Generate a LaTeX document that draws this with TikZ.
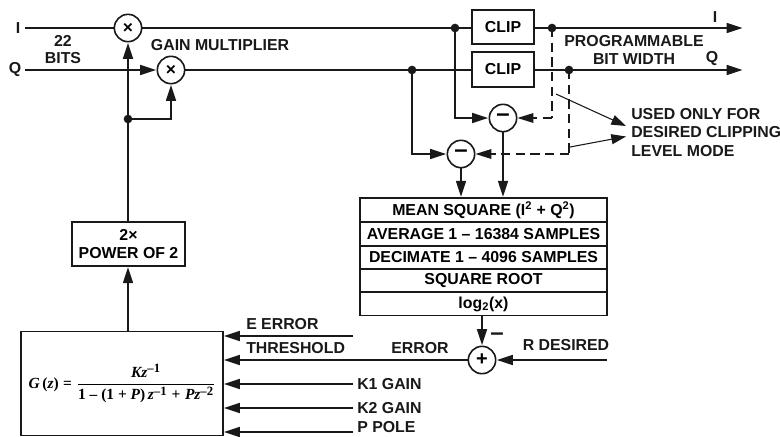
\documentclass[tikz,border=0pt]{standalone}
\usepackage{fontspec}
\usepackage{amsmath}
\setmainfont{Liberation Sans}[BoldFont={Liberation Sans Bold}]
\newfontfamily\serf{Liberation Serif}
\usetikzlibrary{arrows.meta,calc}
\newcommand{\fv}[1]{\hbox{\serf\bfseries\itshape #1}}
\newcommand{\fr}[1]{\hbox{\serf\bfseries #1}}
\newcommand{\fs}[1]{{}^{\hbox{\fontsize{9.5}{9.5}\serf\bfseries #1}}}
\newcommand{\lab}{\bfseries\fontsize{11.9}{11.9}\selectfont}
\tikzset{
  x=0.75pt,y=-0.75pt,
  wire/.style={line width=1.2pt,black!90},
  arr/.style={wire,-{Triangle[length=12pt,width=7.5pt]},shorten >=0.3pt},
  dash wire/.style={wire,dash pattern=on 7pt off 4pt},
  thin arr/.style={line width=0.8pt,black!90,-{Triangle[length=11pt,width=7.5pt]}},
  circ/.style={circle,draw=black!90,line width=1.2pt,minimum size=20.5pt,inner sep=0pt,fill=white,font=\bfseries\fontsize{13}{13}\selectfont},
  blk/.style={draw=black!90,line width=1.2pt,inner sep=0pt,fill=white,align=center,font=\lab},
  dot/.style={circle,fill=black!90,minimum size=6.5pt,inner sep=0pt},
  lab/.style={inner sep=0pt,font=\lab,align=center,text=black!90},
  labl/.style={lab,anchor=west},
}
\begin{document}
\begin{tikzpicture}
\useasboundingbox (0,0) rectangle (780,436);
% multipliers, subtractors, summer
\node[circ] (m1) at (128,28) {×};
\node[circ] (m2) at (171,70) {×};
\node[circ,font=\bfseries\fontsize{18}{18}\selectfont] (d1) at (503,118) {–};
\node[circ,font=\bfseries\fontsize{18}{18}\selectfont] (d2) at (461,154) {–};
\node[circ,font=\bfseries\fontsize{15}{15}\selectfont] (sum) at (482,360) {+};
% blocks
\node[blk,minimum width=46.5pt,minimum height=25.5pt] at (503,27) (c1) {CLIP};
\node[blk,minimum width=46.5pt,minimum height=26pt] at (503,69.5) (c2) {CLIP};
\node[blk,minimum width=84.5pt,minimum height=33pt,align=center] (pw) at (128.5,244) {2×\\[1.5pt]POWER OF 2};
\node[blk,minimum width=151.5pt,minimum height=78pt] (gz) at (122,383.5) {};
\node[inner sep=0pt] (gzf) at (gz.center) {\fontsize{11.6}{11.6}\selectfont$\fv{G}\,\fr{(}\fv{z}\fr{)}\;\fr{=}\;\dfrac{\fv{Kz}\fs{–1}}{\fr{1 – (1 + }\fv{P}\fr{)}\,\fv{z}\fs{–1}\;\fr{+}\;\fv{Pz}\fs{–2}}$};
% stack
\node[blk,minimum width=185.5pt,minimum height=18pt] (s1) at (483.5,210) {MEAN SQUARE (I\textsuperscript{2} + Q\textsuperscript{2})};
\node[blk,minimum width=185.5pt,minimum height=18pt] (s2) at (483.5,234) {AVERAGE 1 – 16384 SAMPLES};
\node[blk,minimum width=185.5pt,minimum height=17.25pt] (s3) at (483.5,257.5) {DECIMATE 1 – 4096 SAMPLES};
\node[blk,minimum width=185.5pt,minimum height=17.25pt] (s4) at (483.5,280.5) {SQUARE ROOT};
\node[blk,minimum width=185.5pt,minimum height=17.5pt] (s5) at (483.5,304) {log\textsubscript{2}(x)};
% free ends
\coordinate (iin) at (25,28);
\coordinate (qin) at (25,70);
\coordinate (iout) at (743,28);
\coordinate (qout) at (743,70);
\coordinate (tap) at (128,119);
\coordinate (j1) at (455,28);
\coordinate (j2) at (412,70);
\coordinate (j3) at (552,28);
\coordinate (j4) at (569,70);
\coordinate (rd) at (607,360);
\coordinate (ee) at (353,336);
\coordinate (eeT) at (223.5,336);
\coordinate (k1) at (353,384);
\coordinate (k1T) at (223.5,384);
\coordinate (k2) at (353,408);
\coordinate (k2T) at (223.5,408);
\coordinate (pp) at (353,432);
\coordinate (ppT) at (223.5,432);
\coordinate (errT) at (223.5,360);
\coordinate (n1) at (626,126);
\coordinate (n2) at (626,136.5);
\coordinate (n1s) at (556,94);
\coordinate (n2s) at (570,147);
\coordinate (qc) at (128,70);
\coordinate (dc1) at (552,118);
\coordinate (dc2) at (569,154);
% wires
\draw[wire] (iin) -- (m1);
\draw[wire] (qin) -- (qc);
\draw[arr] (qc) -- (m2);
\draw[wire] (m1) -- (c1.west |- m1);
\draw[wire] (m2) -- (c2.west |- m2);
\draw[arr] (c1.east |- iout) -- (iout);
\draw[arr] (c2.east |- qout) -- (qout);
\draw[arr] (pw.north -| m1) -- (m1);
\draw[arr] (gz.north -| m1) -- (pw.south -| m1);
\draw[arr] (tap) -| (m2);
\draw[arr] (j1) |- (d1);
\draw[arr] (j2) |- (d2);
\draw[dash wire] (j3) -- (dc1);
\draw[dash wire,-{Triangle[length=12pt,width=7.5pt,line width=0pt]}] (dc1) -- (d1);
\draw[dash wire] (j4) -- (dc2);
\draw[dash wire,-{Triangle[length=12pt,width=7.5pt,line width=0pt]}] (dc2) -- (d2);
\draw[arr] (d1) -- (d1 |- s1.north);
\draw[arr] (d2) -- (d2 |- s1.north);
\draw[arr] (s5.south -| sum) -- (sum);
\draw[arr] (rd) -- (sum);
\draw[arr] (sum) -- (errT);
\draw[arr] (ee) -- (eeT);
\draw[arr] (k1) -- (k1T);
\draw[arr] (k2) -- (k2T);
\draw[arr] (pp) -- (ppT);
\draw[thin arr] (n1s) -- (n1);
\draw[thin arr] (n2s) -- (n2);
% dots
\node[dot] (dt) at (tap) {};
\node[dot] (dj1) at (j1) {};
\node[dot] (dj2) at (j2) {};
\node[dot] (dj3) at (j3) {};
\node[dot] (dj4) at (j4) {};
% labels
\node[lab] (l1) at (18,28) {I};
\node[lab] (l2) at (15,70) {Q};
\node[lab] (l3) at (63,49.5) {22\\[1.5pt]BITS};
\node[lab] (l4) at (220,45) {GAIN MULTIPLIER};
\node[lab] (l5) at (715,17) {I};
\node[lab] (l6) at (634,50) {PROGRAMMABLE\\[1.5pt]BIT WIDTH};
\node[lab] (l7) at (712,59) {Q};
\node[labl] (l8) at (631,114) {USED ONLY FOR};
\node[labl] (l9) at (631,132.5) {DESIRED CLIPPING};
\node[labl] (l10) at (631,151) {LEVEL MODE};
\node[labl] (l11) at (246,324.5) {E ERROR};
\node[labl] (l12) at (246,348.5) {THRESHOLD};
\node[lab] (l13) at (420,348.5) {ERROR};
\node[lab] (l14) at (566,345.5) {R DESIRED};
\node[lab,font=\bfseries\fontsize{18}{18}\selectfont] (l15) at (497,336.5) {–};
\node[labl] (l16) at (357,384) {K1 GAIN};
\node[labl] (l17) at (357,408) {K2 GAIN};
\node[labl] (l18) at (357,427.5) {P POLE};
\end{tikzpicture}
\end{document}
